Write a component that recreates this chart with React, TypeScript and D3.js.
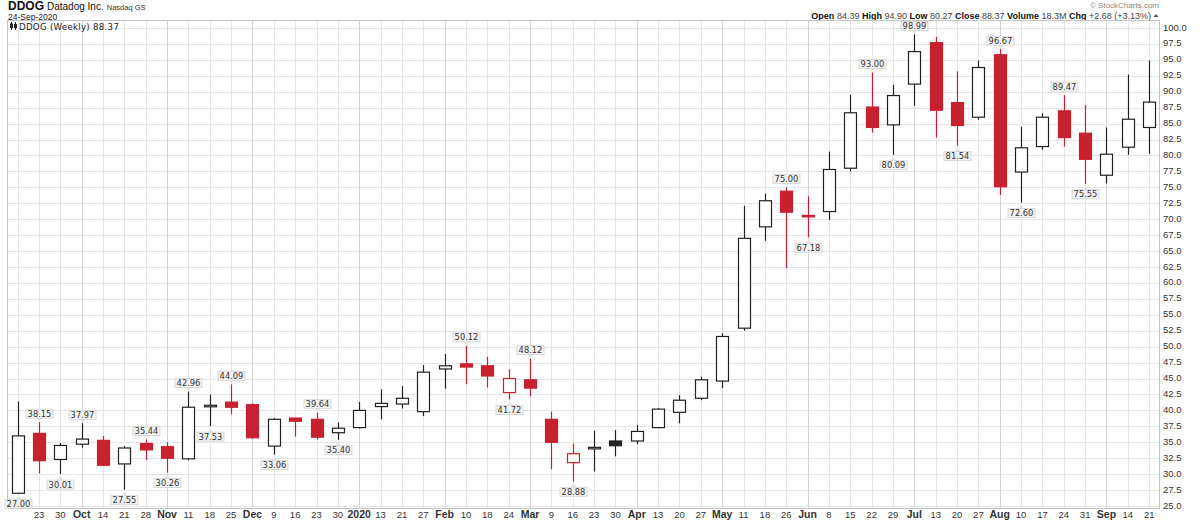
import * as d3 from "d3";

const WIDTH = 1200;
const HEIGHT = 521;
const PLOT = { left: 7.5, right: 1159.5, top: 20.5, bottom: 508.5 };
const RED = "#c8202f";
const INK = "#222";
const FONT = "'Liberation Sans', Arial, sans-serif";

// weekly candles, Sep 16 2019 .. Sep 21 2020
const weekLabels = [
  "", "23", "30", "Oct", "14", "21", "28", "Nov", "11", "18", "25", "Dec", "9", "16",
  "23", "30", "2020", "13", "21", "27", "Feb", "10", "18", "24", "Mar", "9", "16",
  "23", "30", "Apr", "13", "20", "27", "May", "11", "18", "26", "Jun", "8", "15",
  "22", "29", "Jul", "13", "20", "27", "Aug", "10", "17", "24", "31", "Sep", "14", "21",
];
const monthLabels = ["Oct", "Nov", "Dec", "2020", "Feb", "Mar", "Apr", "May", "Jun", "Jul", "Aug", "Sep"];

const opens = [
  27.0, 36.4, 32.3, 34.7, 35.3, 31.6, 34.8, 34.3, 32.4, 40.6, 41.3, 40.9, 34.4, 38.8,
  38.6, 36.5, 37.3, 40.6, 41.0, 39.8, 46.5, 47.3, 47.0, 42.8, 44.8, 38.6, 31.8,
  34.0, 35.2, 35.2, 37.3, 39.7, 41.9, 44.6, 52.9, 68.8, 74.4, 70.6, 71.2, 78.0,
  87.6, 84.8, 91.2, 97.7, 88.3, 86.0, 95.8, 77.4, 81.4, 87.0, 83.5, 76.9, 81.3, 84.39,
];
const highs = [
  41.4, 38.15, 34.9, 37.97, 36.0, 34.4, 35.44, 35.0, 42.96, 42.5, 44.09, 41.1, 38.8, 38.8,
  39.64, 38.1, 41.3, 43.3, 43.8, 47.1, 48.85, 50.12, 48.4, 46.45, 48.12, 39.8, 34.8,
  36.8, 36.9, 37.7, 40.4, 42.4, 45.3, 52.1, 72.1, 74.0, 75.0, 73.6, 80.6, 89.5,
  93.0, 91.1, 98.99, 98.6, 93.2, 94.9, 96.67, 84.5, 86.6, 89.47, 87.9, 84.4, 92.7, 94.9,
];
const lows = [
  27.0, 30.1, 30.01, 34.15, 31.3, 27.55, 32.2, 30.26, 32.2, 37.53, 39.4, 35.6, 33.06, 35.9,
  35.45, 35.4, 37.2, 38.6, 40.3, 39.1, 43.4, 44.1, 43.6, 41.72, 42.2, 30.75, 28.88,
  30.4, 32.8, 34.7, 37.2, 38.0, 41.6, 43.5, 52.5, 66.6, 62.3, 67.18, 69.9, 77.5,
  83.6, 80.09, 87.8, 82.8, 81.54, 85.6, 73.8, 72.6, 80.9, 81.4, 75.55, 75.6, 80.1, 80.27,
];
const closes = [
  36.0, 32.1, 34.5, 35.5, 31.4, 34.1, 33.8, 32.5, 40.5, 40.8, 40.5, 35.7, 38.6, 38.3,
  35.8, 37.2, 40.0, 41.1, 41.9, 46.0, 47.0, 46.8, 45.4, 45.0, 43.5, 35.0, 33.2,
  34.2, 34.45, 36.7, 40.2, 41.6, 44.8, 51.6, 67.0, 72.9, 71.1, 70.5, 77.8, 86.7,
  84.4, 89.4, 96.3, 87.1, 84.7, 93.8, 75.1, 81.2, 86.0, 82.8, 79.4, 80.2, 85.69, 88.37,
];

// candles carrying a value label
const highLabelWeeks = [1, 3, 6, 8, 10, 14, 21, 24, 36, 40, 42, 46, 49];
const lowLabelWeeks = [0, 2, 5, 7, 9, 12, 15, 23, 26, 37, 41, 44, 47, 50];

const yTicks = d3.range(25, 100.01, 2.5);

const x = d3.scaleLinear().domain([0, weekLabels.length - 1]).range([17.6, 1149.2]);
const y = d3.scaleLinear().domain([25, 100]).range([506, 28]);

const BODY_W = 12;

const Candle = ({ i }: { i: number }) => {
  const o = opens[i], h = highs[i], l = lows[i], c = closes[i];
  const prev = i > 0 ? closes[i - 1] : o;
  const color = c < prev ? RED : INK;
  const hollow = c > o;
  const cx = Math.round(x(i)) + 0.5;
  const top = y(Math.max(o, c));
  const bot = y(Math.min(o, c));
  const bh = Math.max(bot - top, 1.5);
  return (
    <g>
      <line x1={cx} x2={cx} y1={y(h)} y2={y(l)} stroke={color} strokeWidth={1.2} />
      <rect
        x={cx - BODY_W / 2}
        y={top}
        width={BODY_W}
        height={bh}
        fill={hollow ? "#fff" : color}
        stroke={color}
        strokeWidth={1.2}
      />
    </g>
  );
};

const ValueTag = ({ i, side }: { i: number; side: "high" | "low" }) => {
  const v = side === "high" ? highs[i] : lows[i];
  const cx = Math.round(x(i)) + 0.5;
  const vy = y(v);
  const w = 27;
  const hgt = 9;
  const by = side === "high" ? vy - 4 - hgt : vy + 6;
  const tip = side === "high" ? vy - 1 : vy + 2;
  const base = side === "high" ? by + hgt : by;
  return (
    <g>
      <path d={`M${cx - 3},${base} L${cx},${tip} L${cx + 3},${base} Z`} fill="#e4e4e4" />
      <rect x={cx - w / 2} y={by} width={w} height={hgt} fill="#f3f3f3" stroke="#d2d2d2" strokeWidth={0.8} />
      <text
        x={cx}
        y={by + hgt / 2 + 0.5}
        textAnchor="middle"
        dominantBaseline="middle"
        fontFamily="'DejaVu Sans', sans-serif"
        fontSize={8.3}
        fill="#333"
      >
        {v.toFixed(2)}
      </text>
    </g>
  );
};

export default function App() {
  return (
    <svg
      width={WIDTH}
      height={HEIGHT}
      style={{ position: "absolute", left: 0, top: 0, background: "#fff" }}
      fontFamily={FONT}
    >
      <rect width={WIDTH} height={HEIGHT} fill="#fff" />

      {/* header */}
      <text x={8} y={10} fontSize={12} fill="#111">
        <tspan fontWeight="bold">DDOG</tspan>
        <tspan dx={3} fontSize={10}>Datadog Inc.</tspan>
        <tspan dx={3} fontSize={7.5} fill="#333">Nasdaq GS</tspan>
      </text>
      <text x={8} y={19.5} fontSize={8.5} fill="#222">24-Sep-2020</text>
      <text x={1159} y={7.5} fontSize={8} fill="#888" textAnchor="end">© StockCharts.com</text>
      <text x={1151} y={18.5} fontSize={9} fill="#444" textAnchor="end">
        <tspan fontWeight="bold" fill="#111">Open</tspan> 84.39{" "}
        <tspan fontWeight="bold" fill="#111">High</tspan> 94.90{" "}
        <tspan fontWeight="bold" fill="#111">Low</tspan> 80.27{" "}
        <tspan fontWeight="bold" fill="#111">Close</tspan> 88.37{" "}
        <tspan fontWeight="bold" fill="#111">Volume</tspan> 18.3M{" "}
        <tspan fontWeight="bold" fill="#111">Chg</tspan> +2.68 (+3.13%)
      </text>
      <path d="M1153.5,17 L1156,14 L1158.5,17 Z" fill="#555" />

      {/* grid */}
      {yTicks.map((t) => (
        <line key={"h" + t} x1={PLOT.left} x2={PLOT.right} y1={Math.round(y(t)) + 0.5} y2={Math.round(y(t)) + 0.5} stroke="#e6e6e6" />
      ))}
      {weekLabels.map((lab, i) => (
        <line
          key={"v" + i}
          x1={Math.round(x(i)) + 0.5}
          x2={Math.round(x(i)) + 0.5}
          y1={PLOT.top}
          y2={PLOT.bottom}
          stroke={monthLabels.includes(lab) ? "#d4d4d4" : "#e6e6e6"}
        />
      ))}
      <rect
        x={PLOT.left}
        y={PLOT.top}
        width={PLOT.right - PLOT.left}
        height={PLOT.bottom - PLOT.top}
        fill="none"
        stroke="#c4c4c4"
      />

      {/* legend */}
      <g>
        <line x1={11.5} x2={11.5} y1={22} y2={30} stroke="#222" />
        <rect x={10} y={23.5} width={3} height={4.5} fill="#222" />
        <line x1={15.5} x2={15.5} y1={22} y2={30} stroke="#222" />
        <rect x={14} y={24} width={3} height={4} fill="#222" />
        <text x={19} y={29.5} fontSize={8.6} fontFamily="'DejaVu Sans', sans-serif" fill="#222" letterSpacing={0.3}>
          DDOG (Weekly) 88.37
        </text>
      </g>

      {/* candles */}
      {weekLabels.map((_, i) => (
        <Candle key={"c" + i} i={i} />
      ))}

      {/* value tags */}
      {highLabelWeeks.map((i) => (
        <ValueTag key={"th" + i} i={i} side="high" />
      ))}
      {lowLabelWeeks.map((i) => (
        <ValueTag key={"tl" + i} i={i} side="low" />
      ))}

      {/* y axis */}
      {yTicks.map((t) => (
        <text key={"yl" + t} x={1163} y={y(t)} dominantBaseline="middle" fontSize={9.5} fill="#333">
          {t.toFixed(1)}
        </text>
      ))}

      {/* x axis */}
      {weekLabels.map((lab, i) =>
        lab ? (
          <text
            key={"xl" + i}
            x={x(i)}
            y={518}
            textAnchor="middle"
            fontSize={monthLabels.includes(lab) ? 10.5 : 9.5}
            fontWeight={monthLabels.includes(lab) ? "bold" : "normal"}
            fill="#333"
          >
            {lab}
          </text>
        ) : null
      )}
    </svg>
  );
}
